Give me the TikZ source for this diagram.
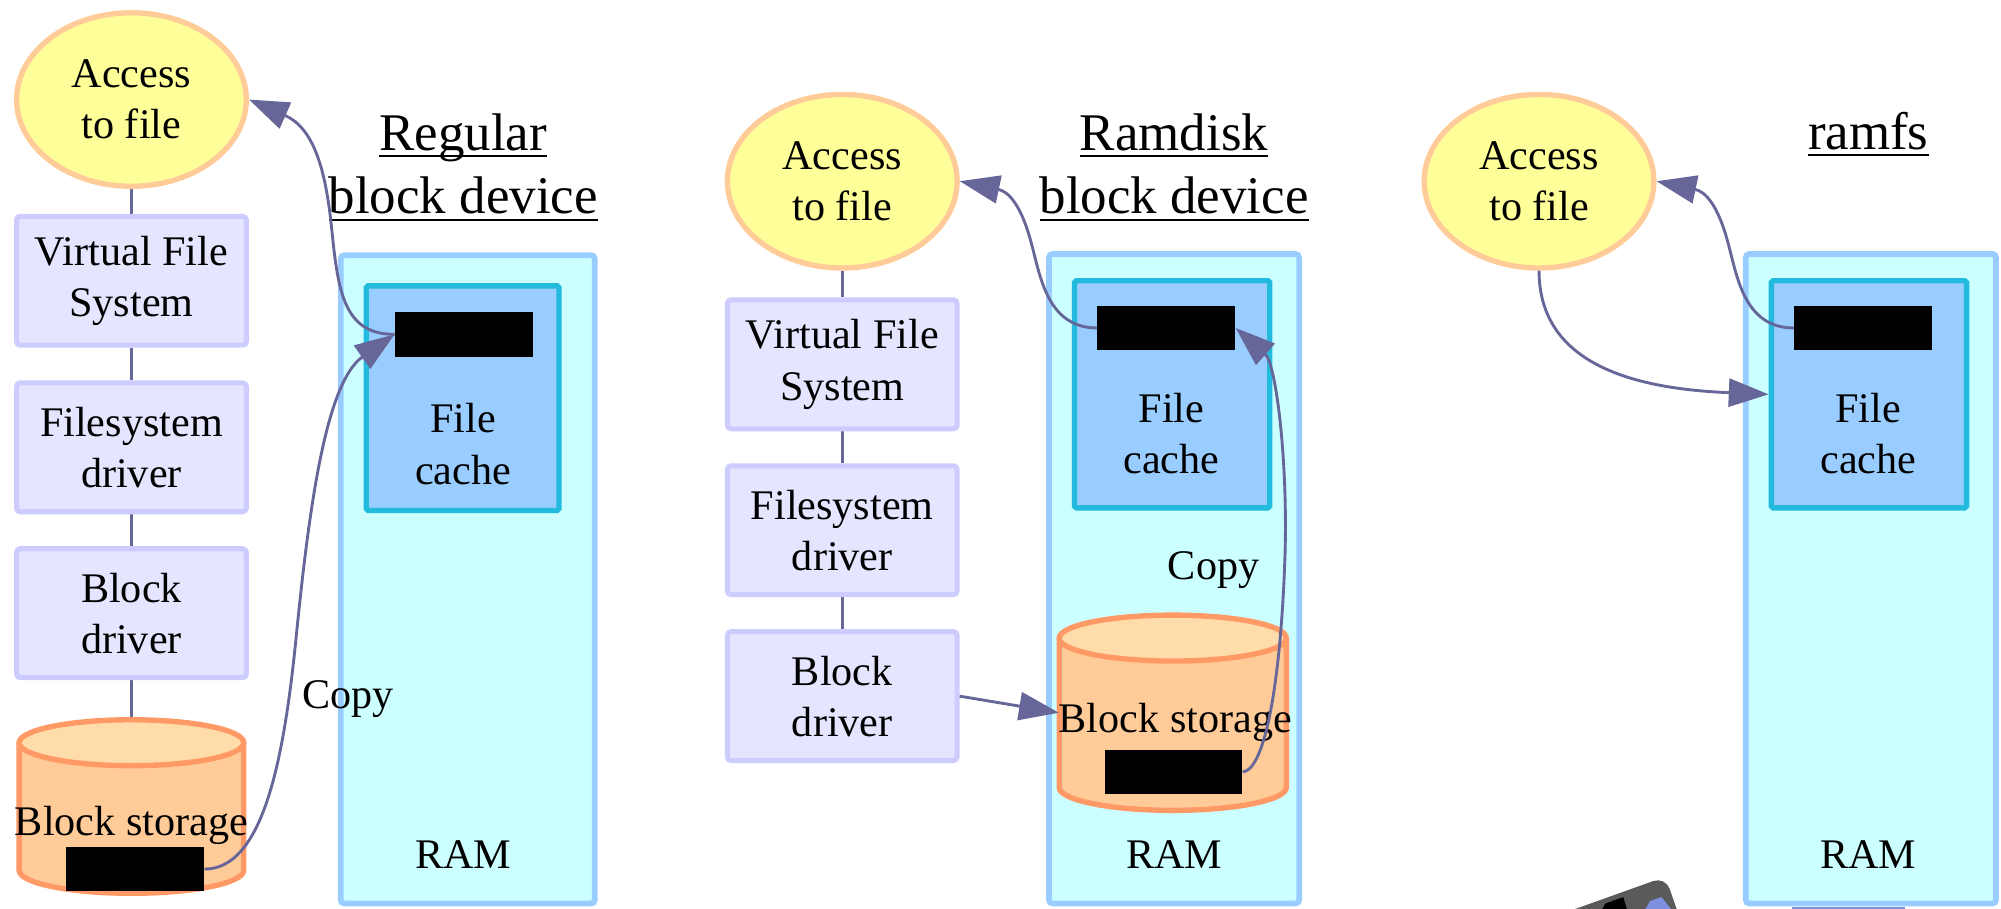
\documentclass[tikz,border=0pt]{standalone}
\usepackage{fontspec}
\setmainfont{Liberation Serif}
\usetikzlibrary{shapes.geometric,arrows.meta}
\pgfdeclarelayer{background}
\pgfsetlayers{background,main}

\definecolor{ellfill}{HTML}{FFFF99}
\definecolor{elledge}{HTML}{FFCC99}
\definecolor{layerfill}{HTML}{E5E5FF}
\definecolor{layeredge}{HTML}{CCCCFF}
\definecolor{ramfill}{HTML}{CCFFFF}
\definecolor{ramedge}{HTML}{99CCFF}
\definecolor{cachefill}{HTML}{99CCFF}
\definecolor{cacheedge}{HTML}{22BBDD}
\definecolor{storefill}{HTML}{FFCC99}
\definecolor{storetop}{HTML}{FFDDAA}
\definecolor{storeedge}{HTML}{FF9966}
\definecolor{linkcol}{HTML}{666699}
\definecolor{gadget}{HTML}{5A5A5A}
\definecolor{screen}{HTML}{7F8FE0}

\newcommand{\pxu}{0.025cm}
\newcommand{\bodyfont}{\fontsize{23.5}{28.5}\selectfont}
\newcommand{\headfont}{\fontsize{29.5}{35.5}\selectfont}

% heading text with a firm rule beneath it
\newsavebox{\headbox}
\newcommand{\ruled}[1]{\sbox{\headbox}{#1}\leavevmode
  \rlap{\rule[-4pt]{\wd\headbox}{1.3pt}}\usebox{\headbox}}

% storage drum: #1 centre x, #2 top, #3 bottom, #4 half width
\newcommand{\drum}[4]{%
  \fill[storefill] ({#1-#4},{#2+18}) -- ({#1-#4},{#3-18})
    arc[start angle=180, end angle=360, x radius=#4*\pxu, y radius=18*\pxu]
    -- ({#1+#4},{#2+18}) -- cycle;
  \fill[storetop] (#1,{#2+18}) ellipse[x radius=#4*\pxu, y radius=18*\pxu];
  \draw[storeedge, line width=3pt, line join=round] ({#1-#4},{#2+18}) -- ({#1-#4},{#3-18})
    arc[start angle=180, end angle=360, x radius=#4*\pxu, y radius=18*\pxu]
    -- ({#1+#4},{#2+18});
  \draw[storeedge, line width=3pt] (#1,{#2+18}) ellipse[x radius=#4*\pxu, y radius=18*\pxu];
}

\tikzset{
  access/.style={ellipse, fill=ellfill, draw=elledge, line width=3pt,
    minimum width=180*\pxu, minimum height=136*\pxu, inner sep=0pt,
    align=center, font=\bodyfont},
  layerbox/.style={rectangle, rounded corners=2pt, fill=layerfill, draw=layeredge,
    line width=2.8pt, minimum width=180*\pxu, minimum height=101*\pxu,
    inner sep=0pt, align=center, font=\bodyfont},
  ram/.style={rectangle, rounded corners=2pt, fill=ramfill, draw=ramedge,
    line width=3.2pt, inner sep=0pt},
  cache/.style={rectangle, rounded corners=1pt, fill=cachefill, draw=cacheedge,
    line width=3pt, inner sep=0pt},
  block/.style={rectangle, fill=black, minimum width=108*\pxu,
    minimum height=35*\pxu, inner sep=0pt},
  storearea/.style={rectangle, inner sep=0pt},
  txt/.style={align=center, font=\bodyfont, inner sep=0pt},
  heading/.style={align=center, font=\headfont, inner sep=0pt},
  link/.style={draw=linkcol, line width=1.6pt},
  flow/.style={link, -{Triangle[length=0.78cm, width=0.55cm]}},
}

\begin{document}
\begin{tikzpicture}[x=0.025cm, y=-0.025cm]
\useasboundingbox (0,0) rectangle (1568,712);

% ---------- regular block device ----------
\node[access] (a1) at (103,78) {Access\\to file};
\node[layerbox] (v1) at (103,220) {Virtual File\\System};
\node[layerbox] (f1) at (103,350.5) {Filesystem\\driver};
\node[layerbox] (d1) at (103,480.5) {Block\\driver};
\drum{103}{564}{700}{88}
\node[storearea, minimum width=176*\pxu, minimum height=136*\pxu] (s1) at (103,632) {};
\node[txt] (s1t) at (103,647) {Block storage};
\node[block] (k1b) at (106,681) {};
\node[ram, minimum width=199*\pxu, minimum height=508*\pxu] (r1) at (366.5,454) {};
\node[cache, minimum width=151*\pxu, minimum height=176*\pxu] (c1) at (362.5,312) {};
\node[block] (k1) at (363.5,262) {};
\node[txt] (c1t) at (363,348) {File\\cache};
\node[txt] (r1t) at (363,670) {RAM};
\node[heading] (h1) at (363,131) {\ruled{Regular}\\\ruled{block device}};
\node[txt] (cp1) at (273,548) {Copy};

% ---------- ramdisk block device ----------
\node[access] (a2) at (660,142) {Access\\to file};
\node[layerbox] (v2) at (660,285.5) {Virtual File\\System};
\node[layerbox] (f2) at (660,415.5) {Filesystem\\driver};
\node[layerbox] (d2) at (660,545.5) {Block\\driver};
\node[ram, minimum width=196*\pxu, minimum height=509*\pxu] (r2) at (920,453.5) {};
\node[cache, minimum width=153*\pxu, minimum height=178*\pxu] (c2) at (918.5,309) {};
\node[block] (k2) at (914,257) {};
\node[txt] (c2t) at (918,340) {File\\cache};
\node[heading] (h2) at (920,131) {\ruled{Ramdisk}\\\ruled{block device}};
\node[txt] (cp2) at (951,447) {Copy};
\drum{919}{482}{635}{89}
\node[storearea, minimum width=178*\pxu, minimum height=153*\pxu] (s2) at (919,558.5) {};
\node[txt] (s2t) at (921,566) {Block storage};
\node[block] (k2b) at (919.5,605) {};
\node[txt] (r2t) at (920,670) {RAM};

% ---------- ramfs ----------
\node[access] (a3) at (1206,142) {Access\\to file};
\node[ram, minimum width=196*\pxu, minimum height=509*\pxu] (r3) at (1466,453.5) {};
\node[cache, minimum width=153*\pxu, minimum height=178*\pxu] (c3) at (1464.5,309) {};
\node[block] (k3) at (1460,257) {};
\node[txt] (c3t) at (1464,340) {File\\cache};
\node[heading] (h3) at (1464,105) {\ruled{ramfs}};
\node[txt] (r3t) at (1464,670) {RAM};

% ---------- layer stacks ----------
\begin{pgfonlayer}{background}
  \draw[link] (a1) -- (v1);
  \draw[link] (v1) -- (f1);
  \draw[link] (f1) -- (d1);
  \draw[link] (d1) -- (s1);
  \draw[link] (a2) -- (v2);
  \draw[link] (v2) -- (f2);
  \draw[link] (f2) -- (d2);
\end{pgfonlayer}

% ---------- data paths ----------
\draw[flow] (k1b.east) .. controls (205,681) and (222,600) .. (232,500)
  .. controls (242,400) and (255,300) .. (k1.west);
\draw[flow] (k1.west) .. controls (270,262) and (265,230) .. (260,180)
  .. controls (255,130) and (245,100) .. (a1.east);

\draw[flow] (d2.east) -- (s2.west);
\draw[flow] (k2b.east) .. controls (992,603) and (1004,530) .. (1007,433)
  .. controls (1009,360) and (1000,285) .. (k2.east);
\draw[flow] (k2.west) .. controls (820,257) and (815,215) .. (808,190)
  .. controls (800,160) and (790,150) .. (a2.east);

\draw[flow] (a3.south) .. controls (1206,290) and (1290,305) .. (c3.west);
\draw[flow] (k3.west) .. controls (1366,257) and (1361,215) .. (1354,190)
  .. controls (1346,160) and (1336,150) .. (a3.east);

% ---------- device peeking in at the lower edge ----------
\begin{scope}
  \clip (0,0) rectangle (1568,712);
  \fill[gadget, rounded corners=0.25cm] (1115,755) -- (1305,687) -- (1327,750) -- (1137,818) -- cycle;
  \fill[black] (1255,713) -- (1258,708) -- (1272,703) -- (1275,713) -- cycle;
  \fill[screen] (1289,713) -- (1293,706) -- (1302,703) -- (1310,713) -- cycle;
  \fill[screen] (1404,710.5) rectangle (1493,713);
\end{scope}
\end{tikzpicture}
\end{document}
